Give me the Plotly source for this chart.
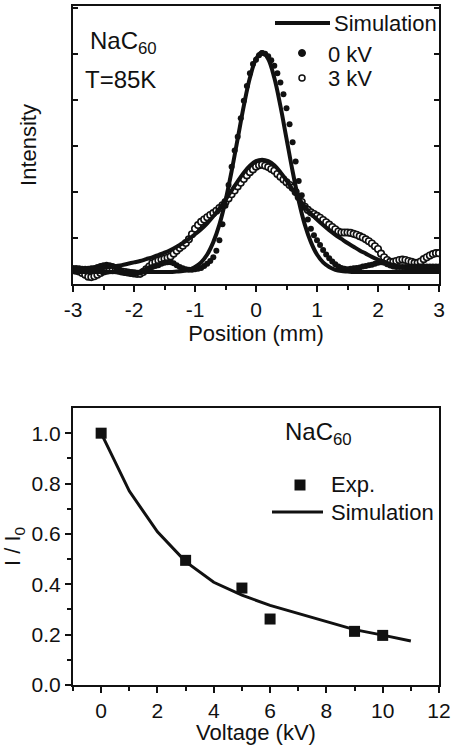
import plotly.graph_objects as go

# ---------------- data: top panel (intensity profiles) ----------------
# simulation curves sampled every 0.1 mm from -3 to 3
pos_sim = [round(-3 + 0.1 * i, 1) for i in range(61)]
sim_0kV = [0.26] * 17 + [0.27, 0.28, 0.31, 0.37, 0.47, 0.64, 0.91, 1.29, 1.81, 2.45, 3.16, 3.87, 4.48,
                         4.89, 5.04, 4.89, 4.48, 3.87, 3.16, 2.45, 1.81, 1.29, 0.91, 0.64, 0.47, 0.37, 0.31,
                         0.28, 0.27] + [0.26] * 15
sim_3kV = [0.30, 0.31, 0.32, 0.33, 0.34, 0.35, 0.37, 0.39, 0.41, 0.44,
           0.47, 0.50, 0.54, 0.58, 0.63, 0.68, 0.74, 0.81, 0.89, 0.98,
           1.08, 1.19, 1.32, 1.47, 1.64, 1.83, 2.03, 2.23, 2.42, 2.57,
           2.67, 2.70, 2.67, 2.58, 2.43, 2.25, 2.05, 1.86, 1.68, 1.53,
           1.40, 1.28, 1.17, 1.07, 0.98, 0.89, 0.81, 0.73, 0.66, 0.59,
           0.53, 0.48, 0.43, 0.39, 0.36, 0.33, 0.31, 0.30, 0.29, 0.29,
           0.28]

# measured profiles sampled every 0.05 mm from -3 to 3
pos_data = [round(-3 + 0.05 * i, 2) for i in range(121)]
data_0kV = [0.35, 0.35, 0.34, 0.33, 0.33, 0.33, 0.34, 0.35, 0.37, 0.39,
            0.41, 0.42, 0.41, 0.39, 0.36, 0.32, 0.28, 0.25, 0.24, 0.23,
            0.23, 0.24, 0.25, 0.28, 0.31, 0.34, 0.37, 0.39, 0.41, 0.44,
            0.46, 0.47, 0.47, 0.45, 0.41, 0.37, 0.34, 0.32, 0.31, 0.31,
            0.32, 0.33, 0.35, 0.39, 0.44, 0.50, 0.58, 0.72, 0.95, 1.30,
            1.70, 2.15, 2.55, 2.90, 3.20, 3.60, 3.98, 4.30, 4.58, 4.78,
            4.87, 4.97, 5.02, 5.00, 4.95, 4.86, 4.74, 4.58, 4.38, 4.12,
            3.82, 3.47, 3.08, 2.66, 2.24, 1.93, 1.66, 1.40, 1.20, 1.06,
            0.95, 0.85, 0.74, 0.64, 0.56, 0.49, 0.43, 0.38, 0.35, 0.33,
            0.32, 0.33, 0.34, 0.35, 0.36, 0.38, 0.39, 0.41, 0.42, 0.44,
            0.46, 0.47, 0.46, 0.43, 0.40, 0.38, 0.37, 0.37, 0.37, 0.37,
            0.37, 0.38, 0.38, 0.38, 0.38, 0.38, 0.38, 0.38, 0.38, 0.38,
            0.38]
data_3kV = [0.30, 0.29, 0.27, 0.24, 0.20, 0.16, 0.15, 0.17, 0.20, 0.24,
            0.27, 0.29, 0.30, 0.30, 0.30, 0.29, 0.27, 0.26, 0.25, 0.24,
            0.23, 0.22, 0.22, 0.26, 0.32, 0.38, 0.45, 0.48, 0.51, 0.53,
            0.55, 0.57, 0.60, 0.66, 0.72, 0.78, 0.83, 0.89, 0.97, 1.08,
            1.20, 1.28, 1.35, 1.40, 1.45, 1.50, 1.54, 1.59, 1.65, 1.71,
            1.78, 1.86, 1.95, 2.03, 2.12, 2.20, 2.28, 2.36, 2.43, 2.49,
            2.55, 2.58, 2.59, 2.57, 2.54, 2.50, 2.46, 2.39, 2.33, 2.27,
            2.21, 2.15, 2.09, 2.00, 1.89, 1.78, 1.68, 1.61, 1.56, 1.52,
            1.48, 1.44, 1.39, 1.34, 1.29, 1.24, 1.19, 1.14, 1.12, 1.12,
            1.12, 1.11, 1.09, 1.07, 1.04, 1.01, 0.97, 0.93, 0.88, 0.82,
            0.76, 0.66, 0.58, 0.52, 0.48, 0.48, 0.50, 0.52, 0.53, 0.52,
            0.50, 0.48, 0.46, 0.46, 0.49, 0.54, 0.58, 0.62, 0.65, 0.67,
            0.67]

pos_ticks = [-3, -2, -1, 0, 1, 2, 3]
pos_ticktext = ["-3", "-2", "-1", "0", "1", "2", "3"]

# ---------------- data: bottom panel (I/I0 vs voltage) ----------------
volt_exp = [0, 3, 5, 6, 9, 10]
ratio_exp = [1.0, 0.495, 0.385, 0.262, 0.213, 0.197]
volt_sim = [0, 1, 2, 3, 4, 5, 6, 7, 8, 9, 10, 11]
ratio_sim = [1.0, 0.77, 0.608, 0.49, 0.408, 0.357, 0.316, 0.283, 0.251, 0.22, 0.198, 0.175]
volt_ticks = [0, 2, 4, 6, 8, 10, 12]
ratio_ticks = [0.0, 0.2, 0.4, 0.6, 0.8, 1.0]

# ---------------- layout helpers ----------------
W, H = 454, 745
FONT = "Liberation Sans, Arial, Helvetica, sans-serif"


def px(x):
    return x / W


def py(y):
    return 1 - y / H


BLACK = "#111111"

fig = go.Figure()

# top panel traces
fig.add_trace(go.Scatter(x=pos_data, y=data_3kV, mode="markers", xaxis="x", yaxis="y",
                         marker=dict(symbol="circle", size=6.5, color="white",
                                     line=dict(color=BLACK, width=1.6)),
                         name="3 kV", showlegend=False))
fig.add_trace(go.Scatter(x=pos_data, y=data_0kV, mode="markers", xaxis="x", yaxis="y",
                         marker=dict(symbol="circle", size=6, color=BLACK),
                         name="0 kV", showlegend=False))
fig.add_trace(go.Scatter(x=pos_sim, y=sim_3kV, mode="lines", xaxis="x", yaxis="y",
                         line=dict(color=BLACK, width=4, shape="spline"),
                         name="Simulation 3 kV", showlegend=False))
fig.add_trace(go.Scatter(x=pos_sim, y=sim_0kV, mode="lines", xaxis="x", yaxis="y",
                         line=dict(color=BLACK, width=4, shape="spline"),
                         name="Simulation 0 kV", showlegend=False))

# bottom panel traces
fig.add_trace(go.Scatter(x=volt_sim, y=ratio_sim, mode="lines", xaxis="x2", yaxis="y2",
                         line=dict(color=BLACK, width=3),
                         name="Simulation", showlegend=False))
fig.add_trace(go.Scatter(x=volt_exp, y=ratio_exp, mode="markers", xaxis="x2", yaxis="y2",
                         marker=dict(symbol="square", size=11, color=BLACK),
                         name="Exp.", showlegend=False))

tickfont = dict(family=FONT, size=21, color=BLACK)
titlefont = dict(family=FONT, size=22, color=BLACK)

xdom = [px(73), px(439)]
top_dom = [py(284), py(6)]
bot_dom = [py(685), py(408)]

common = dict(showgrid=False, zeroline=False, color=BLACK, linecolor=BLACK, tickcolor=BLACK,
              automargin=False)

fig.update_layout(
    width=W, height=H,
    margin=dict(l=0, r=0, t=0, b=0, autoexpand=False),
    paper_bgcolor="white", plot_bgcolor="white",
    font=dict(family=FONT, color=BLACK),
    showlegend=False,
    xaxis=dict(domain=xdom, anchor="y", range=[-3, 3], tickmode="array",
               tickvals=pos_ticks, ticktext=pos_ticktext, ticks="outside", ticklen=6, tickwidth=1.5,
               minor=dict(tickmode="array", tickvals=[-2.5, -1.5, -0.5, 0.5, 1.5, 2.5],
                          ticks="outside", ticklen=4, tickwidth=1.5, tickcolor=BLACK),
               showline=True, linewidth=2, mirror=True, tickfont=tickfont,
               title=dict(text="Position (mm)", font=titlefont, standoff=1), **common),
    xaxis3=dict(overlaying="x", anchor="y", side="top", range=[-3, 3], tickmode="linear",
                tick0=-3, dtick=0.5, ticks="inside", ticklen=5, tickwidth=1.5,
                showticklabels=False, showline=False, **common),
    yaxis=dict(domain=top_dom, anchor="x", range=[0, 6.04], tickmode="array",
               tickvals=[1, 2, 3, 4, 5, 6], ticks="inside", ticklen=5, tickwidth=1.5,
               showticklabels=False, showline=True, linewidth=2, mirror="ticks",
               title=dict(text="Intensity", font=titlefont, standoff=28), **common),
    xaxis2=dict(domain=xdom, anchor="y2", range=[-1, 12], tickmode="array",
                tickvals=volt_ticks, ticks="outside", ticklen=6, tickwidth=1.5,
                minor=dict(tickmode="array", tickvals=[-1, 1, 3, 5, 7, 9, 11],
                           ticks="outside", ticklen=4, tickwidth=1.5, tickcolor=BLACK),
                showline=True, linewidth=2, mirror=True, tickfont=tickfont,
                title=dict(text="Voltage (kV)", font=titlefont, standoff=1), **common),
    xaxis4=dict(overlaying="x2", anchor="y2", side="top", range=[-1, 12], tickmode="linear",
                tick0=0, dtick=1, ticks="inside", ticklen=5, tickwidth=1.5,
                showticklabels=False, showline=False, **common),
    yaxis2=dict(domain=bot_dom, anchor="x2", range=[0, 1.1], tickmode="array",
                tickvals=ratio_ticks, ticktext=[f"{v:.1f}" for v in ratio_ticks],
                ticks="outside", ticklen=6, tickwidth=1.5,
                minor=dict(tickmode="array", tickvals=[0.1, 0.3, 0.5, 0.7, 0.9],
                           ticks="outside", ticklen=4, tickwidth=1.5, tickcolor=BLACK),
                showline=True, linewidth=2, mirror=True, tickfont=tickfont,
                title=dict(text="I / I<sub>0</sub>", font=titlefont, standoff=8), **common),
    yaxis3=dict(overlaying="y2", anchor="x2", side="right", range=[0, 1.1], tickmode="linear",
                tick0=0, dtick=0.1, ticks="inside", ticklen=5, tickwidth=1.5,
                showticklabels=False, showline=False, **common),
)

ann_font = dict(family=FONT, size=24, color=BLACK)
leg_font = dict(family=FONT, size=22, color=BLACK)


def note(x, y, text, font, xanchor="left"):
    fig.add_annotation(x=px(x), y=py(y), xref="paper", yref="paper", text=text, showarrow=False,
                       xanchor=xanchor, yanchor="middle", font=font)


# top panel labels
note(88, 43, "NaC<sub>60</sub>", ann_font)
note(83, 80, "T=85K", ann_font)
# top legend
fig.add_shape(type="line", xref="paper", yref="paper", x0=px(275), x1=px(330), y0=py(23), y1=py(23),
              line=dict(color=BLACK, width=4))
note(332, 24, "Simulation", leg_font)
fig.add_shape(type="circle", xref="paper", yref="paper", x0=px(298.5), x1=px(305.5), y0=py(56.5),
              y1=py(49.5), fillcolor=BLACK, line=dict(color=BLACK, width=1))
note(326, 54, "0 kV", leg_font)
fig.add_shape(type="circle", xref="paper", yref="paper", x0=px(299), x1=px(305), y0=py(81), y1=py(75),
              fillcolor="white", line=dict(color=BLACK, width=1.5))
note(326, 79, "3 kV", leg_font)

# bottom panel labels
note(283, 433, "NaC<sub>60</sub>", ann_font)
fig.add_shape(type="rect", xref="paper", yref="paper", x0=px(294.5), x1=px(305.5), y0=py(490.5),
              y1=py(479.5), fillcolor=BLACK, line=dict(color=BLACK, width=0))
note(329, 485, "Exp.", leg_font)
fig.add_shape(type="line", xref="paper", yref="paper", x0=px(272), x1=px(323), y0=py(512), y1=py(512),
              line=dict(color=BLACK, width=3))
note(329, 512, "Simulation", leg_font)

fig.write_html("out.html")
